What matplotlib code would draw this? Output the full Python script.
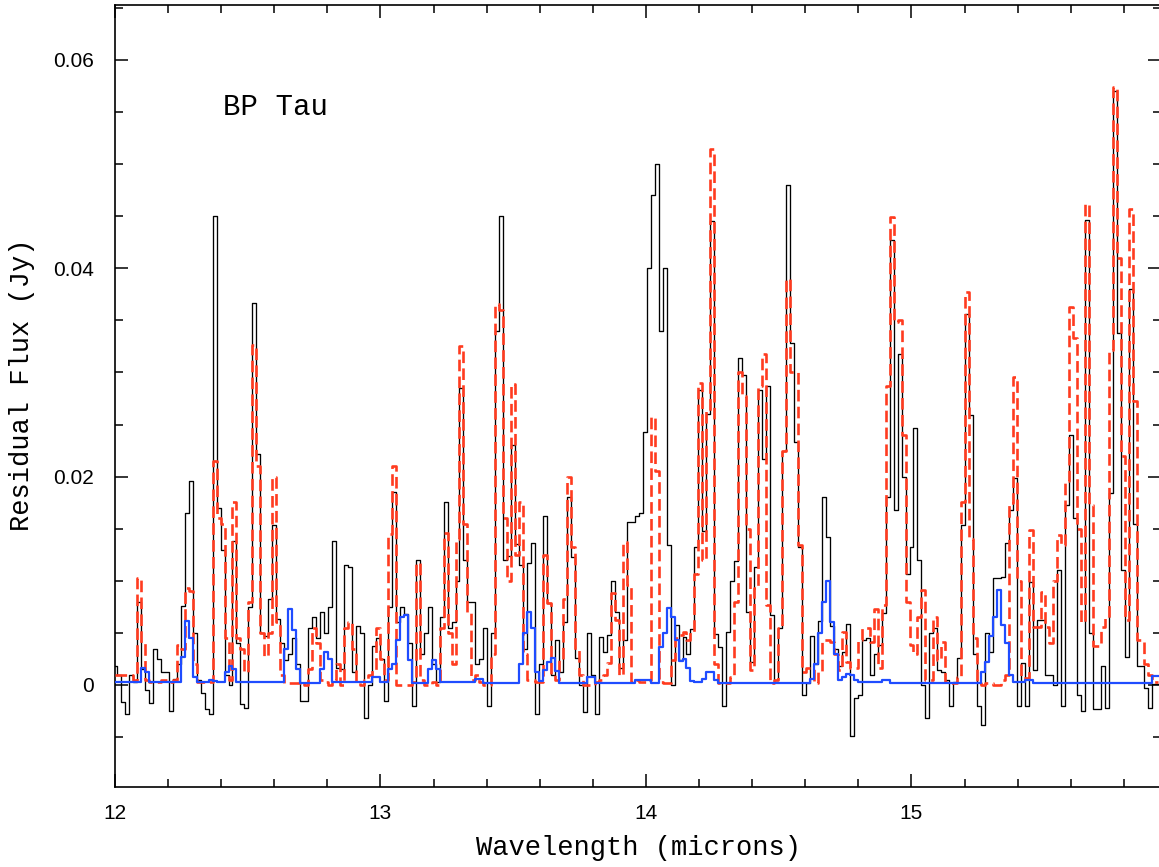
import numpy as np
import matplotlib
matplotlib.use("Agg")
import matplotlib.pyplot as plt
from matplotlib.ticker import MultipleLocator, FixedLocator, FixedFormatter

plt.rcParams["font.family"] = ["Liberation Sans", "DejaVu Sans"]

# ---------------- data (flux in mJy, converted to Jy below) ----------------
wl_start = 12.0
wl_step = 0.015

observed_mjy = [
    1.8, 1.0, -1.6, -2.8, 1.0, 0.3, 8.0, 1.5, -0.5, -1.7,
    3.5, 2.5, 1.2, 1.2, -2.5, 0.6, 2.0, 7.6, 16.5, 19.6,
    5.0, 0.5, -0.8, -2.3, -2.8, 45.0, 17.0, 13.0, 1.0, 0.0,
    13.8, 4.0, -1.8, -2.2, 7.5, 36.7, 22.2, 5.0, 4.7, 8.3,
    15.4, 6.3, 4.0, 2.4, 3.0, 4.5, 2.0, -1.5, -1.5, 5.5,
    6.5, 4.5, 7.0, 5.0, 7.5, 13.8, 1.6, 1.5, 11.5, 11.3,
    1.2, 5.7, 5.0, -3.2, 0.0, 3.7, 4.5, 2.5, -1.5, 7.5,
    18.5, 6.0, 7.5, 6.8, 4.0, -2.0, 12.0, 3.0, 5.0, 7.5,
    2.0, 0.3, 6.5, 17.6, 5.5, 6.0, 10.0, 28.5, 12.0, 8.0,
    8.0, 2.0, 2.5, 5.5, -2.0, 5.0, 34.0, 45.0, 12.0, 12.4,
    23.0, 13.5, 11.5, 3.5, 11.7, 13.6, -2.8, 2.0, 16.2, 7.9,
    1.0, 4.3, 1.2, 6.0, 18.0, 12.3, 2.6, 0.0, -2.6, 5.0,
    1.0, -2.8, 4.6, 3.2, 4.8, 10.0, 7.0, 1.6, 4.3, 15.6,
    15.6, 16.2, 16.5, 24.3, 40.0, 47.0, 50.0, 34.0, 40.0, 13.4,
    0.0, 5.8, 2.4, 4.6, 3.0, 5.4, 13.2, 28.3, 14.8, 26.0,
    44.5, 4.9, 3.6, -2.0, 5.1, 10.0, 11.9, 31.4, 29.8, 7.0,
    2.2, 11.3, 28.3, 21.7, 28.7, 6.7, 0.5, 5.5, 22.5, 48.0,
    32.8, 23.3, 13.2, -1.0, 0.2, 4.7, 2.0, 6.1, 18.0, 14.2,
    5.7, 3.5, 1.8, 3.2, 5.9, -4.9, -1.2, -1.0, 4.3, 4.5,
    1.0, 3.0, 3.8, 6.9, 18.0, 42.7, 16.8, 31.8, 20.0, 10.7,
    13.2, 24.7, 12.0, 0.0, -3.2, 5.0, 5.5, 1.4, 1.2, 0.5,
    -2.0, 0.3, 2.6, 15.4, 35.6, 25.9, 3.0, -2.0, -3.8, 5.0,
    3.2, 10.3, 10.3, 10.4, 13.6, 16.8, 19.9, -2.0, 2.1, -2.0,
    9.9, 1.4, 6.2, 6.2, 1.0, 1.0, 0.0, 11.0, -2.0, 17.3,
    24.0, 16.0, -1.0, -2.5, 44.6, 5.0, -2.3, -2.3, 1.8, -2.2,
    18.4, 57.0, 33.8, 11.0, 2.7, 38.0, 15.5, 1.8, 1.8, -0.3,
    -2.2, 0.1, 0.1,
]

model_h2o_mjy = [
    1.0, 1.0, 1.0, 1.0, 1.0, 0.5, 10.3, 4.0, 0.5, 0.3,
    0.3, 0.3, 0.5, 0.5, 0.3, 0.5, 3.8, 3.5, 9.3, 9.0,
    2.0, 0.3, 0.3, 0.2, 0.3, 21.5, 16.0, 15.5, 4.5, 0.5,
    17.6, 4.5, 3.5, 1.2, 8.0, 32.6, 21.0, 5.0, 2.8, 5.0,
    20.0, 6.0, 1.0, 0.2, 0.2, 0.2, 0.2, 0.3, 0.0, 1.5,
    5.5, 4.0, 0.5, 0.3, 0.0, 0.5, 2.0, 0.0, 5.5, 6.0,
    3.5, 0.3, 0.0, 0.5, 1.0, 1.4, 5.5, 2.5, 0.5, 14.5,
    21.0, 0.0, 0.0, 0.0, 0.0, 0.3, 11.7, 0.5, 0.0, 0.0,
    0.3, 0.0, 5.5, 14.6, 5.0, 2.0, 14.0, 32.5, 15.5, 7.0,
    0.5, 1.0, 0.3, 0.0, 0.0, 3.0, 36.6, 36.0, 16.0, 10.0,
    28.9, 12.5, 17.6, 3.0, 0.5, 0.5, 0.3, 0.3, 12.5, 7.9,
    1.0, 0.5, 2.4, 8.3, 20.0, 13.2, 3.4, 1.0, 0.0, 0.0,
    0.0, 0.3, 0.5, 1.0, 2.1, 8.8, 6.2, 1.0, 13.7, 9.6,
    0.3, 0.5, 0.3, 0.3, 0.5, 25.7, 20.5, 0.3, 0.2, 0.2,
    2.4, 4.5, 4.8, 5.1, 4.3, 5.1, 10.7, 29.0, 12.0, 26.3,
    51.5, 2.0, 0.2, 0.2, 0.2, 0.8, 8.0, 30.0, 27.7, 15.0,
    1.4, 9.3, 28.7, 31.8, 7.7, 0.2, 0.5, 5.5, 22.5, 39.0,
    30.0, 30.0, 13.4, 1.2, 1.6, 1.6, 0.2, 1.2, 4.3, 4.3,
    4.1, 3.0, 1.4, 5.1, 2.2, 1.6, 1.6, 4.3, 5.5, 5.5,
    4.1, 7.3, 1.6, 7.7, 28.7, 44.9, 34.8, 35.0, 24.0, 8.0,
    3.8, 3.0, 6.5, 9.1, 0.5, 0.5, 6.5, 2.4, 4.1, 0.3,
    0.2, 0.2, 0.8, 17.6, 37.7, 14.0, 4.5, 0.2, 0.0, 0.2,
    0.2, 0.0, 0.0, 0.5, 1.0, 17.5, 29.6, 10.0, 0.7, 0.7,
    14.9, 5.6, 5.6, 8.9, 5.6, 4.0, 10.0, 14.4, 13.4, 19.6,
    36.3, 33.3, 15.0, 6.0, 46.2, 17.3, 3.7, 3.7, 5.6, 6.4,
    32.2, 57.4, 41.0, 22.0, 6.2, 45.7, 27.3, 4.3, 4.3, 2.0,
    1.0, 0.3, 0.3,
]

model_oh_mjy = [
    0.3, 0.3, 0.3, 0.3, 0.3, 0.3, 0.3, 1.6, 1.2, 0.3,
    0.3, 0.3, 0.3, 0.3, 0.3, 0.3, 0.3, 2.7, 6.1, 4.5,
    0.8, 0.3, 0.3, 0.3, 0.5, 0.4, 0.3, 0.3, 1.2, 1.8,
    1.5, 0.3, 0.3, 0.3, 0.3, 0.3, 0.3, 0.3, 0.3, 0.3,
    0.3, 0.3, 0.3, 3.5, 7.3, 5.3, 1.5, 0.2, 0.2, 0.2,
    0.2, 0.2, 1.5, 3.2, 2.5, 0.3, 0.3, 0.3, 0.3, 0.3,
    0.3, 0.3, 0.3, 0.3, 0.3, 0.8, 0.8, 0.3, 0.3, 1.5,
    2.0, 4.3, 6.5, 6.7, 2.4, 0.2, 0.2, 0.2, 0.2, 1.5,
    2.4, 1.5, 0.3, 0.3, 0.3, 0.3, 0.3, 0.3, 0.3, 0.3,
    0.3, 0.6, 0.6, 0.2, 0.2, 0.2, 0.2, 0.2, 0.2, 0.2,
    0.2, 0.2, 2.0, 5.0, 7.0, 5.5, 1.2, 0.4, 1.4, 2.2,
    2.6, 1.3, 0.2, 0.2, 0.2, 0.2, 0.2, 0.2, 0.2, 0.8,
    0.8, 0.2, 0.2, 0.2, 0.2, 0.2, 0.2, 0.2, 0.2, 0.2,
    0.2, 0.5, 0.5, 0.5, 0.5, 0.2, 0.2, 3.6, 5.0, 7.4,
    6.5, 4.3, 2.3, 2.5, 1.6, 0.4, 0.3, 0.3, 0.6, 1.2,
    1.2, 0.5, 0.2, 0.2, 0.2, 0.2, 0.2, 0.2, 0.2, 0.2,
    0.2, 0.2, 0.2, 0.2, 0.2, 0.2, 0.2, 0.2, 0.2, 0.2,
    0.2, 0.2, 0.2, 0.2, 0.2, 0.6, 2.0, 5.0, 8.0, 10.0,
    6.0, 3.0, 0.5, 0.8, 1.1, 1.0, 0.5, 0.3, 0.3, 0.3,
    0.3, 0.3, 0.3, 0.5, 0.5, 0.2, 0.2, 0.2, 0.2, 0.2,
    0.2, 0.2, 0.2, 0.2, 0.2, 0.2, 0.2, 0.2, 0.2, 0.2,
    0.2, 0.2, 0.2, 0.2, 0.2, 0.2, 0.2, 0.2, 1.2, 2.2,
    4.7, 6.5, 9.1, 5.8, 4.0, 1.0, 0.3, 0.3, 0.3, 0.5,
    0.5, 0.2, 0.2, 0.2, 0.2, 0.2, 0.2, 0.2, 0.2, 0.2,
    0.2, 0.2, 0.2, 0.2, 0.2, 0.2, 0.2, 0.2, 0.2, 0.2,
    0.2, 0.2, 0.2, 0.2, 0.2, 0.2, 0.2, 0.2, 0.2, 0.2,
    0.2, 0.9, 0.9,
]

x_major_ticks = [12, 13, 14, 15]
x_tick_labels = ["12", "13", "14", "15"]
y_major_ticks = [0.0, 0.02, 0.04, 0.06]
y_tick_labels = ["0", "0.02", "0.04", "0.06"]
star_name = "BP Tau"
x_label = "Wavelength (microns)"
y_label = "Residual Flux (Jy)"

# ---------------- figure ----------------
W, H = 1159, 867
fig = plt.figure(figsize=(W / 100, H / 100), dpi=100)
ax = fig.add_axes([115 / W, (H - 787) / H, 1046 / W, 782 / H])

n = len(observed_mjy)
wl = wl_start + wl_step * np.arange(n)
obs = np.array(observed_mjy) / 1000.0
h2o = np.array(model_h2o_mjy) / 1000.0
oh = np.array(model_oh_mjy) / 1000.0

ax.step(wl, obs, where="mid", color="black", lw=0.95, zorder=2)
red_line, = ax.step(wl, h2o, where="mid", color="#ff3b1f", lw=1.9, zorder=3)
red_line.set_dashes((4.4, 2.0))
ax.step(wl, oh, where="mid", color="#1f4cff", lw=1.6, zorder=4)

x_right = 12.0 + 1046 / 265.5
ax.set_xlim(12.0, x_right)
ax.set_ylim(-(787 - 685) / 10417, (685 - 5) / 10417)

ax.xaxis.set_major_locator(FixedLocator(x_major_ticks))
ax.xaxis.set_major_formatter(FixedFormatter(x_tick_labels))
ax.xaxis.set_minor_locator(MultipleLocator(0.2))
ax.yaxis.set_major_locator(FixedLocator(y_major_ticks))
ax.yaxis.set_major_formatter(FixedFormatter(y_tick_labels))
ax.yaxis.set_minor_locator(MultipleLocator(0.005))

ax.tick_params(which="both", direction="in", top=True, right=True,
               width=1.1, colors="black", labelsize=15)
ax.tick_params(which="major", length=9.5)
ax.tick_params(which="minor", length=5.5)
ax.tick_params(axis="y", which="major", pad=15)
ax.tick_params(axis="x", which="major", pad=12)
for sp in ax.spines.values():
    sp.set_linewidth(1.2)

mono = "Liberation Mono"
ax.text(12.405, 0.0555, star_name, fontfamily=mono, fontsize=21,
        ha="left", va="center", color="black")
fig.text(638 / W, 1 - 848 / H, x_label, fontfamily=mono, fontsize=19.5,
         ha="center", va="center")
fig.text(22 / W, 1 - 385 / H, y_label, fontfamily=mono, fontsize=19.5,
         ha="center", va="center", rotation=90)

fig.savefig("out.png", dpi=100)
